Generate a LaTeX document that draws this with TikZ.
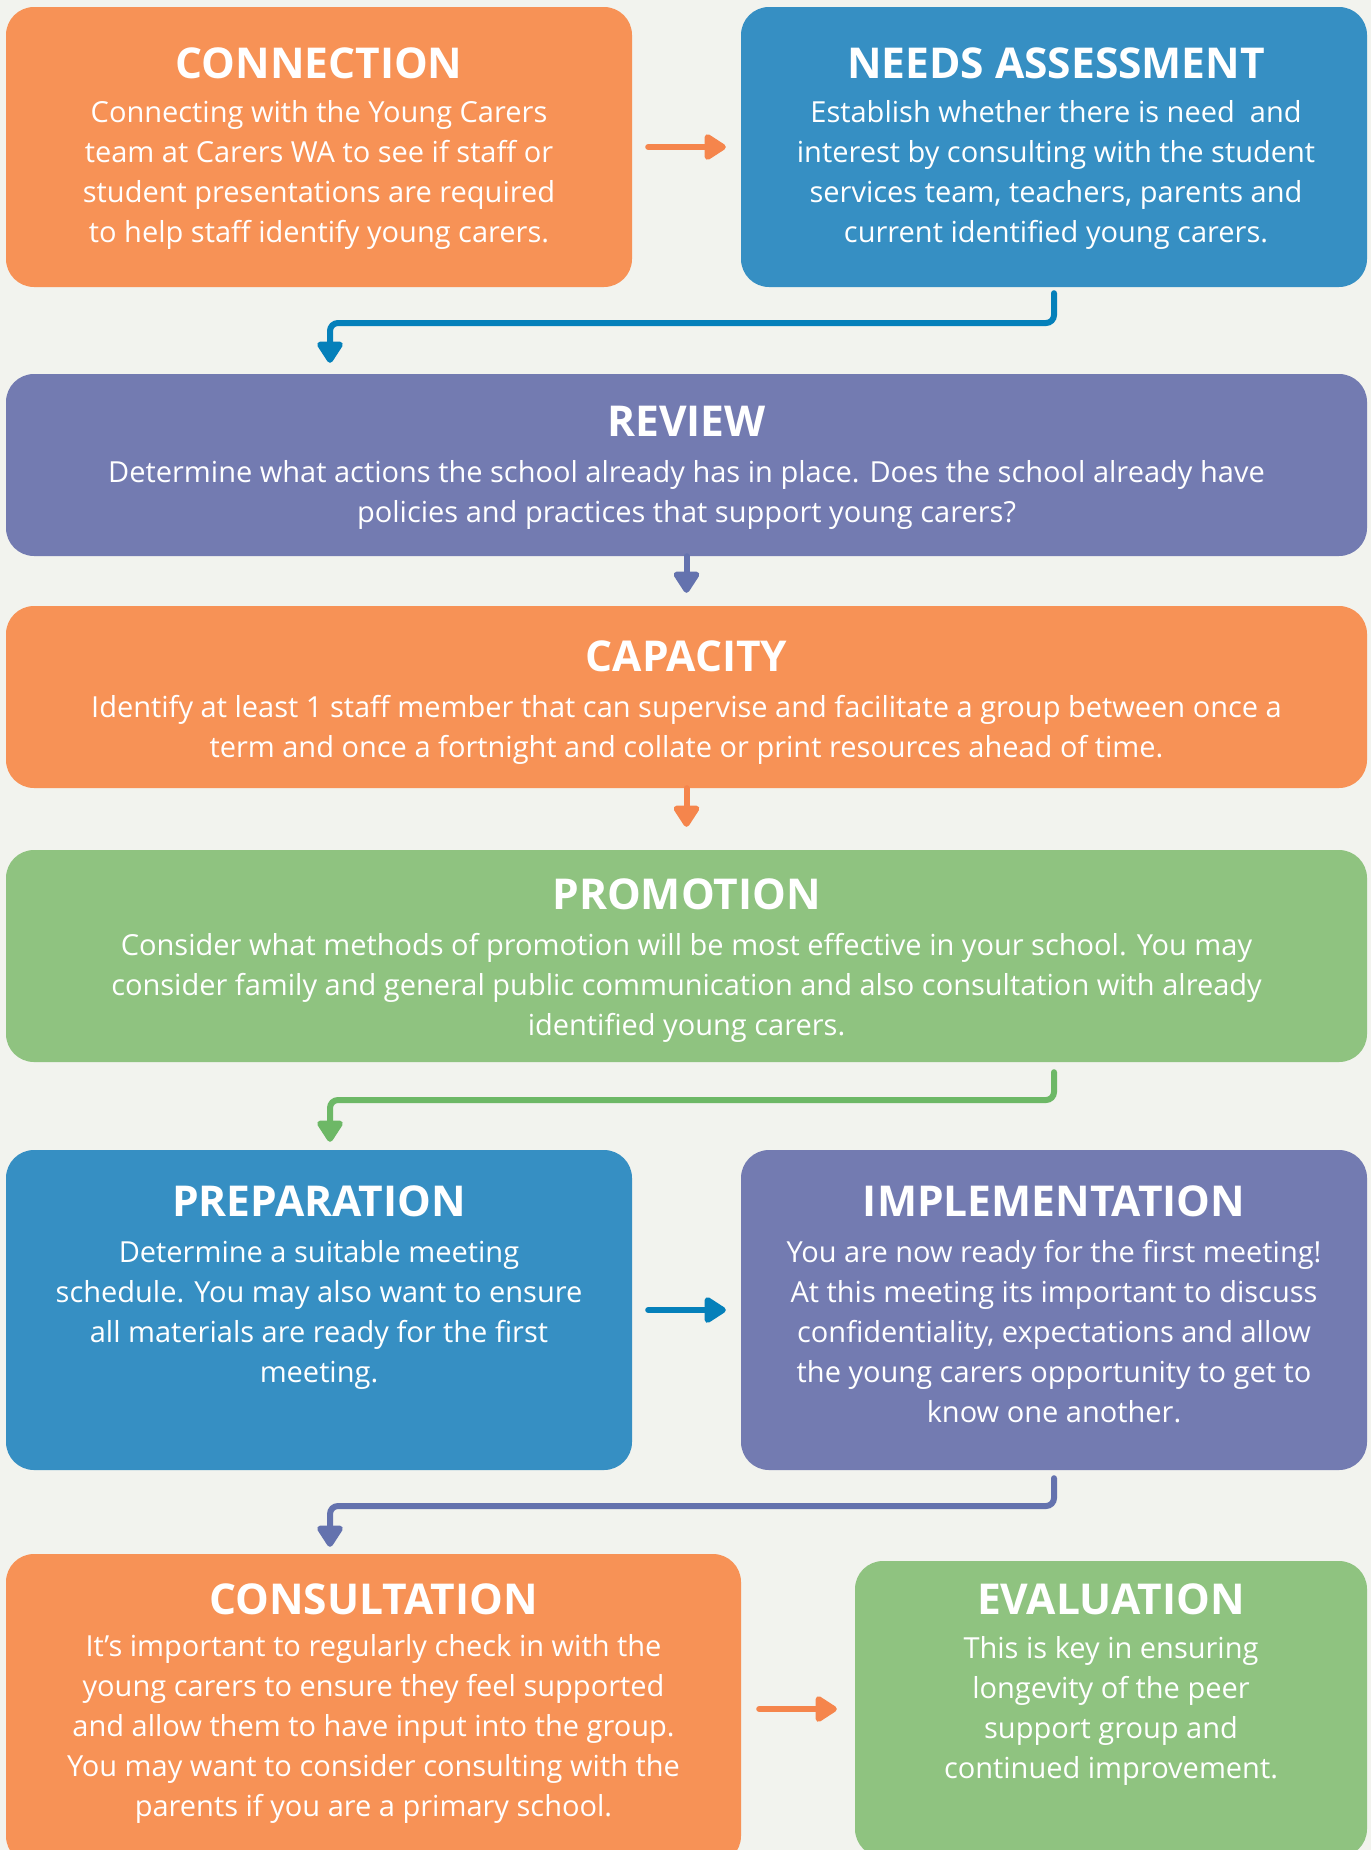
\documentclass[tikz,border=0pt]{standalone}
\usepackage{fontspec}
\setmainfont{Open Sans}
\usetikzlibrary{arrows.meta}

\definecolor{paper}{HTML}{F2F3EE}
\definecolor{orangebox}{HTML}{F79256}
\definecolor{bluebox}{HTML}{368FC3}
\definecolor{purplebox}{HTML}{737BB1}
\definecolor{greenbox}{HTML}{8FC380}
\definecolor{orangeline}{HTML}{F5854C}
\definecolor{blueline}{HTML}{0580BA}
\definecolor{purpleline}{HTML}{6472AE}
\definecolor{greenline}{HTML}{6DB866}

\tikzset{
	box/.style = {rounded corners=28pt, inner sep=0pt},
	heading/.style = {text=white, anchor=base, font=\fontsize{42.5}{48}\selectfont\bfseries},
	blurb/.style = {text=white, anchor=north, align=center, inner sep=0pt, font=\fontsize{29}{40}\selectfont},
	flow/.style = {line width=6pt, line cap=round, -{Triangle[width=29pt,length=24pt,round]}}
}

\begin{document}
\begin{tikzpicture}[x=1pt, y=-1pt]
	\useasboundingbox (0,0) rectangle (1371,1850);
	\clip (0,0) rectangle (1371,1850);
	\fill [paper] (0,0) rectangle (1371,1850);

	% boxes
	\node [box, fill=orangebox, minimum width=626pt, minimum height=280pt] (connection) at (319,147) {};
	\node [box, fill=bluebox, minimum width=626pt, minimum height=280pt] (needs) at (1054,147) {};
	\node [box, fill=purplebox, minimum width=1361pt, minimum height=182pt] (review) at (686.5,465) {};
	\node [box, fill=orangebox, minimum width=1361pt, minimum height=182pt] (capacity) at (686.5,697) {};
	\node [box, fill=greenbox, minimum width=1361pt, minimum height=212pt] (promotion) at (686.5,956) {};
	\node [box, fill=bluebox, minimum width=626pt, minimum height=320pt] (preparation) at (319,1310) {};
	\node [box, fill=purplebox, minimum width=626pt, minimum height=320pt] (implementation) at (1054,1310) {};
	\node [box, fill=orangebox, minimum width=735pt, minimum height=310pt] (consultation) at (373.5,1709) {};
	\node [box, fill=greenbox, minimum width=512pt, minimum height=296pt] (evaluation) at (1111,1709) {};

	% headings
	\node [heading] (connection-t) at (319,78) {CONNECTION};
	\node [heading] (needs-t) at (1056,78) {NEEDS ASSESSMENT};
	\node [heading] (review-t) at (686.5,436) {REVIEW};
	\node [heading] (capacity-t) at (686.5,671) {CAPACITY};
	\node [heading] (promotion-t) at (686.5,909) {PROMOTION};
	\node [heading] (preparation-t) at (319,1216) {PREPARATION};
	\node [heading] (implementation-t) at (1054,1216) {IMPLEMENTATION};
	\node [heading] (consultation-t) at (373.5,1614) {CONSULTATION};
	\node [heading] (evaluation-t) at (1111,1614) {EVALUATION};

	% texts under the headings (first line top sits about 24pt below the heading base)
	\node [blurb] (connection-b) at ([yshift=-22pt]connection-t.base) {Connecting with the Young Carers\\ team at Carers WA to see if staff or\\ student presentations are required\\ to help staff identify young carers.};
	\node [blurb] (needs-b) at ([yshift=-22pt]needs-t.base) {Establish whether there is need\ \ and\\ interest by consulting with the student\\ services team, teachers, parents and\\ current identified young carers.};
	\node [blurb] (review-b) at ([yshift=-24pt]review-t.base) {Determine what actions the school already has in place. Does the school already have\\ policies and practices that support young carers?};
	\node [blurb] (capacity-b) at ([yshift=-24pt]capacity-t.base) {Identify at least 1 staff member that can supervise and facilitate a group between once a\\ term and once a fortnight and collate or print resources ahead of time.};
	\node [blurb] (promotion-b) at ([yshift=-24pt]promotion-t.base) {Consider what methods of promotion will be most effective in your school. You may\\ consider family and general public communication and also consultation with already\\ identified young carers.};
	\node [blurb] (preparation-b) at ([yshift=-24pt]preparation-t.base) {Determine a suitable meeting\\ schedule. You may also want to ensure\\ all materials are ready for the first\\ meeting.};
	\node [blurb] (implementation-b) at ([yshift=-24pt]implementation-t.base) {You are now ready for the first meeting!\\ At this meeting its important to discuss\\ confidentiality, expectations and allow\\ the young carers opportunity to get to\\ know one another.};
	\node [blurb] (consultation-b) at ([yshift=-20pt]consultation-t.base) {It’s important to regularly check in with the\\ young carers to ensure they feel supported\\ and allow them to have input into the group.\\ You may want to consider consulting with the\\ parents if you are a primary school.};
	\node [blurb] (evaluation-b) at ([yshift=-22pt]evaluation-t.base) {This is key in ensuring\\ longevity of the peer\\ support group and\\ continued improvement.};

	% arrows
	\coordinate (bend1) at (330,323);
	\coordinate (bend2) at (330,1100);
	\coordinate (bend3) at (330,1506);
	\draw [flow, orangeline, shorten <=16pt, shorten >=15pt] (connection) -- (needs);
	\draw [flow, blueline, rounded corners=8pt, shorten <=6pt, shorten >=11pt] (needs.south) |- (bend1) -- (bend1 |- review.north);
	\draw [flow, purpleline, shorten >=13pt] (review) -- (capacity);
	\draw [flow, orangeline, shorten >=23pt] (capacity) -- (promotion);
	\draw [flow, greenline, rounded corners=8pt, shorten <=10pt, shorten >=8pt] (promotion.south -| implementation.north) |- (bend2) -- (bend2 |- preparation.north);
	\draw [flow, blueline, shorten <=16pt, shorten >=15pt] (preparation) -- (implementation);
	\draw [flow, purpleline, rounded corners=8pt, shorten <=8pt, shorten >=7pt] (implementation.south) |- (bend3) -- (bend3 |- consultation.north);
	\draw [flow, orangeline, shorten <=18pt, shorten >=18pt] (consultation) -- (evaluation);
\end{tikzpicture}
\end{document}
